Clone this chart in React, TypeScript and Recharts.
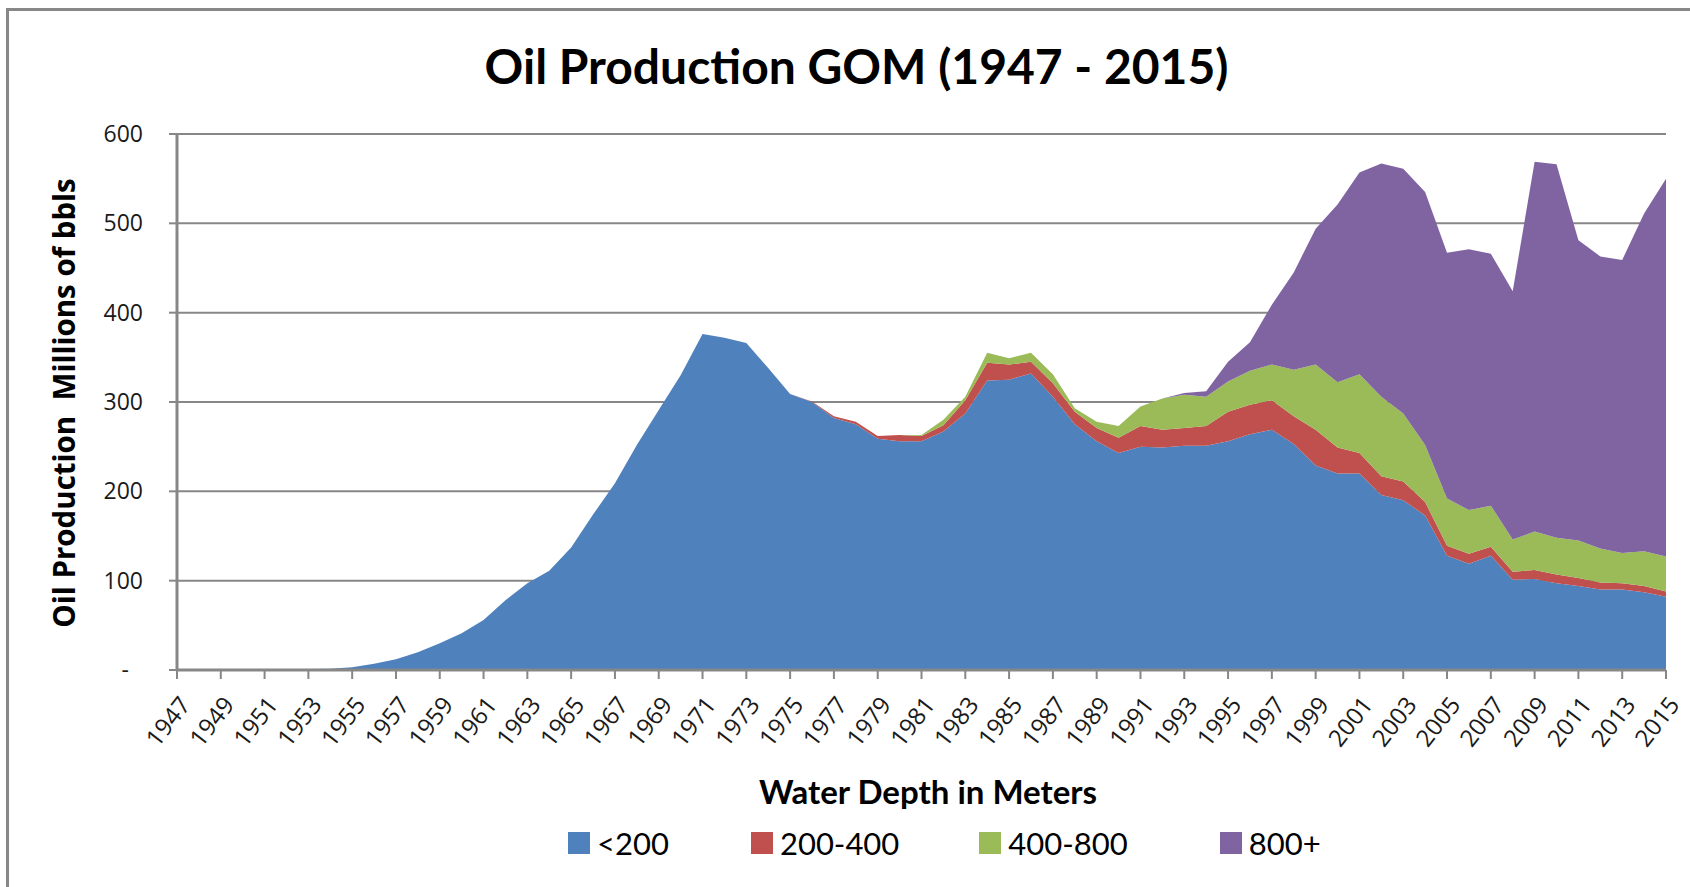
import React from 'react';
import { AreaChart, Area, XAxis, YAxis, CartesianGrid } from 'recharts';

// years on the category axis
const years = [
  '1947', '1948', '1949', '1950', '1951', '1952', '1953', '1954', '1955', '1956',
  '1957', '1958', '1959', '1960', '1961', '1962', '1963', '1964', '1965', '1966',
  '1967', '1968', '1969', '1970', '1971', '1972', '1973', '1974', '1975', '1976',
  '1977', '1978', '1979', '1980', '1981', '1982', '1983', '1984', '1985', '1986',
  '1987', '1988', '1989', '1990', '1991', '1992', '1993', '1994', '1995', '1996',
  '1997', '1998', '1999', '2000', '2001', '2002', '2003', '2004', '2005', '2006',
  '2007', '2008', '2009', '2010', '2011', '2012', '2013', '2014', '2015',
];

// millions of bbls by water depth band
const below200 = [
  0, 0, 0, 0, 0.5, 0.5, 1, 1.5, 3, 7,
  12, 20, 30, 41, 56, 78, 97, 111, 137, 174,
  209, 252, 291, 330, 376, 372, 366, 338, 309, 300,
  282, 275, 259, 256, 256, 267, 287, 324, 325, 332,
  306, 275, 256, 243, 250, 249, 251, 251, 256, 264,
  269, 253, 229, 220, 220, 196, 190, 173, 128, 119,
  128, 101, 102, 97, 94, 90, 90, 87, 82,
];
const depth200to400 = [
  0, 0, 0, 0, 0, 0, 0, 0, 0, 0,
  0, 0, 0, 0, 0, 0, 0, 0, 0, 0,
  0, 0, 0, 0, 0, 0, 0, 0, 0, 0.5,
  2, 3, 3, 7, 6, 7, 15, 20, 17, 13,
  15, 14, 15, 17, 23, 20, 20, 22, 33, 33,
  33, 31, 40, 29, 23, 21, 21, 15, 11, 11,
  10, 9, 10, 10, 9, 8, 7, 7, 6,
];
const depth400to800 = [
  0, 0, 0, 0, 0, 0, 0, 0, 0, 0,
  0, 0, 0, 0, 0, 0, 0, 0, 0, 0,
  0, 0, 0, 0, 0, 0, 0, 0, 0, 0,
  0, 0, 0, 0, 1, 6, 4, 11, 7, 10,
  10, 4, 7, 13, 22, 35, 37, 33, 34, 38,
  40, 52, 73, 73, 88, 89, 76, 64, 53, 49,
  46, 36, 43, 41, 42, 38, 34, 39, 39,
];
const over800 = [
  0, 0, 0, 0, 0, 0, 0, 0, 0, 0,
  0, 0, 0, 0, 0, 0, 0, 0, 0, 0,
  0, 0, 0, 0, 0, 0, 0, 0, 0, 0,
  0, 0, 0, 0, 0, 0, 0, 0, 0, 0,
  0, 0, 0, 0, 0, 0, 2, 6, 22, 32,
  67, 109, 152, 199, 226, 261, 274, 283, 275, 292,
  282, 278, 414, 418, 336, 327, 328, 378, 423,
];

const seriesNames = ['<200', '200-400', '400-800', '800+'];
const seriesColors = ['#4F81BD', '#C0504D', '#9BBB59', '#8064A2'];
const seriesValues = [below200, depth200to400, depth400to800, over800];
const yTicks = [0, 100, 200, 300, 400, 500, 600];

const GRAY = '#878787';
const TEXT = '#1a1a1a';

const data = years.map((year, i) => {
  const row: Record<string, number | string> = { year };
  seriesNames.forEach((name, s) => {
    row[name] = seriesValues[s][i];
  });
  return row;
});

const YearTick = ({ x, y, payload }: any) => {
  const ax = x + 8;
  const ay = y + 19;
  return (
    <text
      x={ax}
      y={ay}
      dy="0.35em"
      textAnchor="end"
      transform={`rotate(-52, ${ax}, ${ay})`}
      fontFamily="Open Sans"
      fontSize={24}
      fill={TEXT}
    >
      {payload.value}
    </text>
  );
};

const ValueTick = ({ x, y, payload }: any) => (
  <text
    x={payload.value === 0 ? x - 14 : x}
    y={y}
    dy="0.35em"
    textAnchor="end"
    fontFamily="Open Sans"
    fontSize={23}
    fill={TEXT}
  >
    {payload.value === 0 ? '-' : payload.value}
  </text>
);

// gap after each legend entry, as in the original
const legendGaps = [82, 80, 92, 0];

export default function App() {
  return (
    <div
      style={{
        position: 'absolute',
        left: 0,
        top: 0,
        width: 1690,
        height: 887,
        overflow: 'hidden',
        background: '#fff',
      }}
    >
      <div
        style={{
          position: 'absolute',
          left: 6,
          top: 8,
          width: 1720,
          height: 920,
          border: `3px solid ${GRAY}`,
          boxSizing: 'border-box',
        }}
      />
      <div
        style={{
          position: 'absolute',
          left: 0,
          top: 36,
          width: 1713,
          textAlign: 'center',
          fontFamily: 'Lato',
          fontWeight: 700,
          fontSize: 48,
          lineHeight: '60px',
          color: '#000',
        }}
      >
        Oil Production GOM (1947 - 2015)
      </div>
      <div
        style={{
          position: 'absolute',
          left: 63,
          top: 403,
          transform: 'translate(-50%, -50%) rotate(-90deg)',
          whiteSpace: 'pre',
          fontFamily: 'Open Sans',
          fontWeight: 700,
          fontSize: 29.5,
          color: '#000',
        }}
      >
        {'Oil Production  Millions of bbls'}
      </div>
      <div
        style={{
          position: 'absolute',
          left: 928,
          top: 791,
          transform: 'translate(-50%, -50%)',
          whiteSpace: 'nowrap',
          fontFamily: 'Lato',
          fontWeight: 700,
          fontSize: 33,
          color: '#000',
        }}
      >
        Water Depth in Meters
      </div>
      <div style={{ position: 'absolute', left: 0, top: 0 }}>
        <AreaChart
          width={1690}
          height={887}
          data={data}
          margin={{ top: 134, right: 24, bottom: 157, left: 0 }}
        >
          <CartesianGrid vertical={false} stroke={GRAY} strokeWidth={2} />
          <XAxis
            dataKey="year"
            interval={1}
            height={60}
            tickSize={9}
            axisLine={{ stroke: GRAY, strokeWidth: 3 }}
            tickLine={{ stroke: GRAY, strokeWidth: 2 }}
            tick={<YearTick />}
          />
          <YAxis
            width={177}
            domain={[0, 600]}
            ticks={yTicks}
            tickSize={8}
            tickMargin={26}
            axisLine={{ stroke: GRAY, strokeWidth: 3 }}
            tickLine={{ stroke: GRAY, strokeWidth: 2 }}
            tick={<ValueTick />}
          />
          {seriesNames.map((name, s) => (
            <Area
              key={name}
              type="linear"
              dataKey={name}
              stackId="depth"
              stroke="none"
              fill={seriesColors[s]}
              fillOpacity={1}
              isAnimationActive={false}
            />
          ))}
        </AreaChart>
      </div>
      <div
        style={{
          position: 'absolute',
          left: 568,
          top: 823,
          height: 40,
          display: 'flex',
          alignItems: 'center',
          fontFamily: 'Lato',
          fontSize: 31,
          color: '#000',
        }}
      >
        {seriesNames.map((name, s) => (
          <div
            key={name}
            style={{ display: 'flex', alignItems: 'center', marginRight: legendGaps[s] }}
          >
            <span
              style={{
                display: 'inline-block',
                width: 22,
                height: 22,
                background: seriesColors[s],
                marginRight: 7,
              }}
            />
            <span>{name}</span>
          </div>
        ))}
      </div>
    </div>
  );
}
